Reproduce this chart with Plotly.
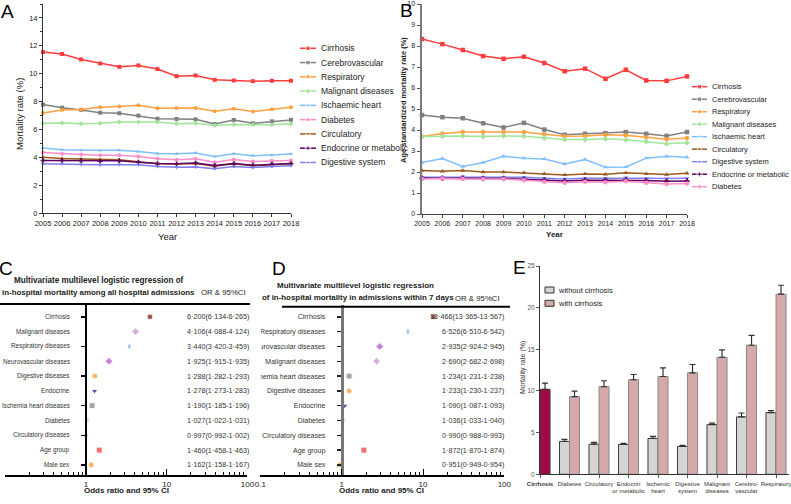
import plotly.graph_objects as go

W, H = 791, 504
FONT = "Liberation Sans Narrow, Liberation Sans, Arial, sans-serif"
FONT2 = "Liberation Sans, Arial, sans-serif"

def fx(p):
    return p / W

def fy(p):
    return 1 - p / H

# ---------------- DATA ----------------
years = list(range(2005, 2019))

# Panel A: crude in-hospital mortality rate (%)
a_cirrhosis = [11.55, 11.41, 11.02, 10.73, 10.49, 10.59, 10.33, 9.82, 9.87, 9.56, 9.51, 9.46, 9.49, 9.49]
a_cerebro = [7.78, 7.56, 7.40, 7.20, 7.16, 6.99, 6.77, 6.75, 6.72, 6.39, 6.68, 6.44, 6.58, 6.68]
a_resp = [7.18, 7.40, 7.42, 7.59, 7.64, 7.73, 7.52, 7.54, 7.54, 7.30, 7.49, 7.28, 7.44, 7.59]
a_malig = [6.44, 6.46, 6.41, 6.44, 6.53, 6.53, 6.53, 6.41, 6.44, 6.29, 6.36, 6.34, 6.34, 6.41]
a_ischaemic = [4.66, 4.54, 4.51, 4.49, 4.51, 4.42, 4.27, 4.25, 4.30, 4.06, 4.25, 4.11, 4.15, 4.23]
a_diabetes = [4.35, 4.25, 4.20, 4.15, 4.15, 4.06, 3.89, 3.82, 3.89, 3.65, 3.84, 3.70, 3.75, 3.77]
a_circ = [4.01, 3.91, 3.87, 3.82, 3.82, 3.67, 3.53, 3.51, 3.55, 3.36, 3.53, 3.39, 3.46, 3.53]
a_endo = [3.77, 3.77, 3.75, 3.72, 3.75, 3.65, 3.55, 3.53, 3.58, 3.41, 3.55, 3.43, 3.51, 3.55]
a_digest = [3.53, 3.53, 3.48, 3.46, 3.48, 3.46, 3.34, 3.29, 3.31, 3.17, 3.34, 3.27, 3.34, 3.39]

# Panel B: age standardized mortality rate (%)
b_cirrhosis = [8.33, 8.09, 7.81, 7.52, 7.39, 7.49, 7.19, 6.80, 6.92, 6.44, 6.87, 6.36, 6.34, 6.55]
b_cerebro = [4.71, 4.61, 4.56, 4.32, 4.12, 4.34, 4.02, 3.77, 3.82, 3.85, 3.90, 3.82, 3.72, 3.90]
b_resp = [3.69, 3.83, 3.90, 3.90, 3.91, 3.91, 3.80, 3.70, 3.72, 3.77, 3.75, 3.66, 3.56, 3.62]
b_malig = [3.69, 3.70, 3.72, 3.69, 3.72, 3.70, 3.62, 3.55, 3.55, 3.58, 3.53, 3.45, 3.35, 3.39]
b_ischaemic = [2.45, 2.64, 2.26, 2.45, 2.75, 2.66, 2.62, 2.38, 2.59, 2.23, 2.24, 2.66, 2.75, 2.70]
b_circ = [2.07, 2.03, 2.07, 2.00, 2.00, 1.96, 1.92, 1.86, 1.91, 1.89, 1.96, 1.91, 1.88, 1.94]
b_digest = [1.75, 1.75, 1.78, 1.75, 1.75, 1.75, 1.70, 1.67, 1.70, 1.70, 1.73, 1.70, 1.69, 1.70]
b_endo = [1.70, 1.70, 1.70, 1.69, 1.69, 1.65, 1.61, 1.57, 1.61, 1.61, 1.62, 1.59, 1.56, 1.57]
b_diabetes = [1.67, 1.69, 1.67, 1.67, 1.67, 1.61, 1.54, 1.49, 1.54, 1.51, 1.56, 1.49, 1.43, 1.45]

# Panel C: OR among all hospital admissions
c_rows = ["Cirrhosis", "Malignant diseases", "Respiratory diseases", "Neurovascular diseases",
          "Digestive diseases", "Endocrine", "Ischemia heart diseases", "Diabetes",
          "Circulatory diseases", "Age group", "Male sex"]
c_or = [6.200, 4.106, 3.440, 1.925, 1.288, 1.278, 1.190, 1.027, 0.997, 1.460, 1.162]
c_lo = [6.134, 4.088, 3.420, 1.915, 1.282, 1.273, 1.185, 1.022, 0.992, 1.458, 1.158]
c_hi = [6.265, 4.124, 3.459, 1.935, 1.293, 1.283, 1.196, 1.031, 1.002, 1.463, 1.167]

# Panel D: OR in admissions within 7 days
d_rows = ["Cirrhosis", "Respiratory diseases", "Neurovascular diseases", "Malignant diseases",
          "Ischemia heart diseases", "Digestive diseases", "Endocrine", "Diabetes",
          "Circulatory diseases", "Age group", "Male sex"]
d_or = [13.466, 6.526, 2.935, 2.690, 1.234, 1.233, 1.090, 1.036, 0.990, 1.872, 0.951]
d_lo = [13.365, 6.510, 2.924, 2.682, 1.231, 1.230, 1.087, 1.033, 0.988, 1.870, 0.949]
d_hi = [13.567, 6.542, 2.945, 2.698, 1.238, 1.237, 1.093, 1.040, 0.993, 1.874, 0.954]

# Panel E: mortality rate with / without cirrhosis
e_cats = ["Cirrhosis", "Diabetes", "Circulatory", "Endocrin or metabolic", "Ischemic heart",
          "Digestive system", "Malignant diseases", "Cerebrovascular", "Respiratory"]
e_ticks = ["<b>Cirrhosis</b>", "Diabetes", "Circulatory", "Endocrin<br>or metabolic", "Ischemic<br>heart",
           "Digestive<br>system", "Malignant<br>diseases", "Cerebro-<br>vascular", "Respiratory"]
e_cirrhosis_only = [10.19]
e_cirrhosis_only_err = [10.95]
e_without = [3.94, 3.62, 3.58, 4.30, 3.34, 5.97, 6.89, 7.40]
e_without_err = [4.18, 3.82, 3.70, 4.54, 3.46, 6.13, 7.36, 7.64]
e_with = [9.32, 10.51, 11.35, 11.74, 12.18, 14.05, 15.49, 21.62]
e_with_err = [9.99, 11.23, 11.98, 12.78, 13.18, 14.93, 16.68, 22.69]

# ---------------- STYLES ----------------
series_style = {
    "Cirrhosis": ("#ff3b3b", "square"),
    "Cerebrovascular": ("#808080", "square"),
    "Respiratory": ("#ffa040", "circle"),
    "Malignant diseases": ("#a3e39c", "diamond"),
    "Ischaemic heart": ("#80bfff", "triangle-up"),
    "Diabetes": ("#ff8fc8", "circle"),
    "Circulatory": ("#9c5a1e", "triangle-up"),
    "Endocrine or metabolic": ("#5e005e", "cross"),
    "Digestive system": ("#8080f0", "triangle-down"),
}
a_series = [("Cirrhosis", a_cirrhosis), ("Cerebrovascular", a_cerebro), ("Respiratory", a_resp),
            ("Malignant diseases", a_malig), ("Ischaemic heart", a_ischaemic), ("Diabetes", a_diabetes),
            ("Circulatory", a_circ), ("Endocrine or metabolic", a_endo), ("Digestive system", a_digest)]
b_series = [("Cirrhosis", b_cirrhosis), ("Cerebrovascular", b_cerebro), ("Respiratory", b_resp),
            ("Malignant diseases", b_malig), ("Ischaemic heart", b_ischaemic), ("Circulatory", b_circ),
            ("Digestive system", b_digest), ("Endocrine or metabolic", b_endo), ("Diabetes", b_diabetes)]

forest_style = {
    "Cirrhosis": ("#7a1a0a", "circle", 6),
    "Malignant diseases": ("#c98fd4", "diamond", 6),
    "Respiratory diseases": ("#86ade3", "diamond-tall", 6),
    "Neurovascular diseases": ("#b54ad6", "diamond", 6),
    "Digestive diseases": ("#f79a3a", "circle", 6),
    "Endocrine": ("#12127a", "triangle-down", 6),
    "Ischemia heart diseases": ("#808080", "square", 6),
    "Diabetes": ("#a6e3a0", "circle", 5),
    "Circulatory diseases": ("#80b0f0", "circle", 5),
    "Age group": ("#f03434", "square", 6),
    "Male sex": ("#f79a3a", "circle", 6),
}

fig = go.Figure()

# ---------------- Panel A ----------------
for name, vals in a_series:
    col, sym = series_style[name]
    fig.add_trace(go.Scatter(x=years, y=vals, mode="lines+markers", name=name, showlegend=False,
                             line=dict(color=col, width=1.5), marker=dict(color=col, symbol=sym, size=4),
                             xaxis="x", yaxis="y", cliponaxis=False))

# ---------------- Panel B ----------------
for name, vals in b_series:
    col, sym = series_style[name]
    fig.add_trace(go.Scatter(x=years, y=vals, mode="lines+markers", name=name, showlegend=False,
                             line=dict(color=col, width=1.5), marker=dict(color=col, symbol=sym, size=4.5),
                             xaxis="x2", yaxis="y2", cliponaxis=False))

# ---------------- Panels C & D (forest plots) ----------------
def forest(rows, orv, lo, hi, xa, ya):
    fig.add_trace(go.Scatter(
        x=orv, y=rows, mode="markers", showlegend=False,
        marker=dict(color=[forest_style[r][0] for r in rows],
                    symbol=[forest_style[r][1] for r in rows],
                    size=[forest_style[r][2] for r in rows]),
        error_x=dict(type="data", symmetric=False,
                     array=[h - o for h, o in zip(hi, orv)],
                     arrayminus=[o - l for o, l in zip(orv, lo)],
                     color="#555", thickness=1, width=0),
        xaxis=xa, yaxis=ya, cliponaxis=False))

forest(c_rows, c_or, c_lo, c_hi, "x3", "y3")
forest(d_rows, d_or, d_lo, d_hi, "x4", "y4")

# ---------------- Panel E (bars) ----------------
fig.add_trace(go.Bar(x=e_cats[1:], y=e_without, name="without cirrhosis", offsetgroup="a",
                     marker=dict(color="#d4d4d4", line=dict(color="#3a3a3a", width=1)),
                     error_y=dict(type="data", symmetric=False,
                                  array=[h - v for h, v in zip(e_without_err, e_without)],
                                  arrayminus=[0] * len(e_without), color="#333", thickness=1.2, width=3),
                     showlegend=False, xaxis="x5", yaxis="y5"))
fig.add_trace(go.Bar(x=e_cats[1:], y=e_with, name="with cirrhosis", offsetgroup="b",
                     marker=dict(color="#d5a9a9", line=dict(color="#8a8a8a", width=1)),
                     error_y=dict(type="data", symmetric=False,
                                  array=[h - v for h, v in zip(e_with_err, e_with)],
                                  arrayminus=[0] * len(e_with), color="#333", thickness=1.2, width=3),
                     showlegend=False, xaxis="x5", yaxis="y5"))
fig.add_trace(go.Bar(x=e_cats[:1], y=e_cirrhosis_only, name="Cirrhosis", offsetgroup="b",
                     marker=dict(color="#a00848", line=dict(color="#3a3a3a", width=1)),
                     error_y=dict(type="data", symmetric=False,
                                  array=[h - v for h, v in zip(e_cirrhosis_only_err, e_cirrhosis_only)],
                                  arrayminus=[0], color="#333", thickness=1.2, width=3),
                     showlegend=False, xaxis="x5", yaxis="y5"))

# ---------------- Manual legends (pixel overlay axis) ----------------
def legend_rows(series, x0, x1, ytop, dy, msize):
    for i, (name, _) in enumerate(series):
        col, sym = series_style[name]
        yy = ytop + i * dy
        fig.add_trace(go.Scatter(x=[x0, (x0 + x1) / 2, x1], y=[yy, yy, yy], mode="lines+markers",
                                 line=dict(color=col, width=1.5),
                                 marker=dict(color=col, symbol=sym, size=[0, msize, 0]),
                                 showlegend=False, xaxis="x6", yaxis="y6", hoverinfo="skip"))

legend_rows(a_series, 300, 316, 48.3, 14.27, 4.5)
legend_rows(b_series, 692, 707, 86.7, 12.5, 4.5)

annotations = []

def ann(text, x, y, size, xanchor="center", yanchor="middle", color="#222", bold=False,
        angle=0, family=FONT):
    if bold:
        text = "<b>" + text + "</b>"
    annotations.append(dict(text=text, x=fx(x), y=fy(y), xref="paper", yref="paper",
                            xanchor=xanchor, yanchor=yanchor, showarrow=False, textangle=angle,
                            font=dict(size=size, color=color, family=family)))

for i, (name, _) in enumerate(a_series):
    ann(name, 319, 48.3 + i * 14.27, 8.5, xanchor="left", color="#222", family=FONT2)
for i, (name, _) in enumerate(b_series):
    ann(name, 709.5, 86.7 + i * 12.5, 7.5, xanchor="left", color="#222", family=FONT2)

# Panel letters
ann("A", 7, 11, 19, family=FONT2, color="#000")
ann("B", 406, 10, 19, family=FONT2, color="#000")
ann("C", 6, 268, 19, family=FONT2, color="#000")
ann("D", 279, 268, 19, family=FONT2, color="#000")
ann("E", 519, 267, 19, family=FONT2, color="#000")

# Axis titles A/B
ann("Mortality rate (%)", 20, 114, 9.5, angle=-90, family=FONT2)
ann("Year", 167, 236, 9.5, family=FONT2)
ann("Age standardized mortality rate (%)", 404, 100, 7.5, angle=-90, bold=True, family=FONT2)
ann("Year", 554, 234, 8, bold=True, family=FONT2)

# Forest titles
ann("Multivariate multilevel logistic regression of", 98.5, 280, 8.15, bold=True)
ann("in-hospital mortality among all hospital admissions", 98.5, 292.5, 7.9, bold=True)
ann("OR &amp; 95%CI", 223, 292, 7.8)
ann("Multivariate multilevel logistic regression", 355, 285, 8.0, bold=True)
ann("of in-hospital mortality in admissions within 7 days", 260, 297.7, 7.9, bold=True, xanchor="left")
ann("OR &amp; 95%CI", 477.5, 298, 7.8)
ann("Odds ratio and 95% CI", 126.5, 490.7, 8, bold=True)
ann("Odds ratio and 95% CI", 381, 490.7, 8, bold=True)

def fmt(v):
    return f"{v:.3f}".replace(".", "·")

# C row labels (right-aligned left of the OR=1 axis)
for r in c_rows:
    annotations.append(dict(text=r, x=fx(72), y=r, xref="paper", yref="y3",
                            xanchor="right", yanchor="middle", showarrow=False,
                            font=dict(size=6.3, color="#333", family=FONT)))
for r, o, l, h in zip(c_rows, c_or, c_lo, c_hi):
    annotations.append(dict(text=f"{fmt(o)}({fmt(l)}-{fmt(h)})", x=fx(185), y=r, xref="paper", yref="y3",
                            xanchor="left", yanchor="middle", showarrow=False,
                            font=dict(size=7.2, color="#333", family=FONT)))
for r, o, l, h in zip(d_rows, d_or, d_lo, d_hi):
    annotations.append(dict(text=f"{fmt(o)}({fmt(l)}-{fmt(h)})", x=fx(506), y=r, xref="paper", yref="y4",
                            xanchor="right", yanchor="middle", showarrow=False,
                            font=dict(size=7.2, color="#333", family=FONT)))

# Panel E titles / legend
ann("Mortality rate (%)", 523, 368, 7, angle=-90, color="#333")
ann("without cirrhosis", 556, 290, 7.5, xanchor="left", color="#222")
ann("with cirrhosis", 556, 303.3, 7.5, xanchor="left", color="#222")

shapes = [
    # top rules of forest plots
    dict(type="line", xref="paper", yref="paper", x0=fx(0), x1=fx(250), y0=fy(304), y1=fy(304),
         line=dict(color="#000", width=2)),
    dict(type="line", xref="paper", yref="paper", x0=fx(282), x1=fx(510), y0=fy(306.7), y1=fy(306.7),
         line=dict(color="#000", width=2)),
    # E legend swatches
    dict(type="rect", xref="paper", yref="paper", x0=fx(545), x1=fx(554), y0=fy(293), y1=fy(287),
         fillcolor="#d4d4d4", line=dict(color="#333", width=1)),
    dict(type="rect", xref="paper", yref="paper", x0=fx(545), x1=fx(554), y0=fy(306.3), y1=fy(300.3),
         fillcolor="#d5a9a9", line=dict(color="#333", width=1)),
    # panel clip between C and D
    dict(type="rect", xref="paper", yref="paper", x0=fx(249), x1=fx(261), y0=fy(470), y1=fy(310),
         fillcolor="white", line=dict(width=0), layer="above"),
]

tickf = dict(size=7.5, color="#222", family=FONT2)
common = dict(automargin=False, showgrid=False, zeroline=False, tickangle=0)
minor_log = [m * d for d in (0.1, 1, 10) for m in range(2, 10)]

fig.update_layout(
    template="none",
    width=W, height=H, margin=dict(l=0, r=0, t=0, b=0, autoexpand=False),
    paper_bgcolor="white", plot_bgcolor="rgba(0,0,0,0)",
    showlegend=False, barmode="group", bargap=0.32, bargroupgap=0,
    annotations=annotations, shapes=shapes,
    # Panel A
    xaxis=dict(domain=[fx(43), fx(291)], range=[2005, 2018], anchor="y", tickvals=years,
               showline=True, linecolor="#333", linewidth=1, ticks="outside", ticklen=3,
               tickcolor="#333", tickfont=tickf, **common),
    yaxis=dict(domain=[fy(213), fy(4)], range=[0, 15], anchor="x", tickvals=list(range(0, 15, 2)),
               showline=True, linecolor="#333", linewidth=1, ticks="outside", ticklen=3,
               tickcolor="#333", tickfont=tickf, **common,
               minor=dict(tickvals=list(range(1, 16, 2)), ticks="outside", ticklen=2, tickcolor="#333",
                          showgrid=False)),
    # Panel B
    xaxis2=dict(domain=[fx(422), fx(687)], range=[2005, 2018], anchor="y2", tickvals=years,
                showline=True, linecolor="#444", linewidth=1, ticks="outside", ticklen=3,
                tickcolor="#444", tickfont=dict(size=7, color="#222", family=FONT2), **common),
    yaxis2=dict(domain=[fy(214), fy(4)], range=[0, 10], anchor="x2", dtick=1,
                showline=True, linecolor="#7a7a7a", linewidth=2.5, ticks="outside", ticklen=3,
                tickcolor="#555", tickfont=dict(size=7, color="#222", family=FONT2), **common),
    # Panel C
    xaxis3=dict(domain=[fx(5.3), fx(247.4)], type="log", range=[-1, 2], anchor="y3",
                tickvals=[0.1, 1, 10, 100], ticktext=["0.1", "1", "10", "100"],
                showline=True, linecolor="#000", linewidth=2, ticks="inside", ticklen=6,
                tickcolor="#000", tickwidth=1, tickfont=dict(size=8, color="#222", family=FONT), **common,
                minor=dict(tickvals=minor_log, ticks="inside", ticklen=3, tickcolor="#000", tickwidth=1,
                           showgrid=False)),
    yaxis3=dict(domain=[fy(475), fy(305)], type="category", categoryorder="array",
                categoryarray=c_rows[::-1], range=[-0.68, 10.8], anchor="free", position=fx(86),
                showline=True, linecolor="#000", linewidth=2, ticks="outside", ticklen=4,
                tickcolor="#000", tickwidth=1.5, showticklabels=False, **common),
    # Panel D
    xaxis4=dict(domain=[fx(260.4), fx(504.3)], type="log", range=[-1, 2], anchor="y4",
                tickvals=[0.1, 1, 10, 100], ticktext=["0.1", "1", "10", "100"],
                showline=True, linecolor="#000", linewidth=2, ticks="inside", ticklen=6,
                tickcolor="#000", tickwidth=1, tickfont=dict(size=8, color="#222", family=FONT), **common,
                minor=dict(tickvals=minor_log, ticks="inside", ticklen=3, tickcolor="#000", tickwidth=1,
                           showgrid=False)),
    yaxis4=dict(domain=[fy(475), fy(305)], type="category", categoryorder="array",
                categoryarray=d_rows[::-1], range=[-0.68, 10.8], anchor="free", position=fx(341.7),
                showline=True, linecolor="#777", linewidth=3, ticks="outside", ticklen=4,
                tickcolor="#222", tickwidth=1.5, ticklabelstandoff=10,
                tickfont=dict(size=7, color="#333", family=FONT), **common),
    # Panel E
    xaxis5=dict(domain=[fx(540), fx(789)], type="category", categoryorder="array", categoryarray=e_cats,
                range=[0, 8.44], anchor="y5", tickvals=e_cats, ticktext=e_ticks,
                showline=True, linecolor="#333", linewidth=1, ticks="outside", ticklen=3,
                tickcolor="#555", tickfont=dict(size=6, color="#333", family=FONT), **common),
    yaxis5=dict(domain=[fy(474.3), fy(266)], range=[0, 25], anchor="x5", dtick=5,
                showline=True, linecolor="#333", linewidth=1, ticks="outside", ticklen=3,
                tickcolor="#555", tickfont=dict(size=6.5, color="#555", family=FONT), **common),
    # Pixel overlay for legend keys
    xaxis6=dict(domain=[0, 1], range=[0, W], anchor="y6", visible=False, fixedrange=True, automargin=False),
    yaxis6=dict(domain=[0, 1], range=[H, 0], anchor="x6", visible=False, fixedrange=True, automargin=False),
)

fig.write_html("out.html", config={"displayModeBar": False, "staticPlot": True},
               post_script="document.body.style.margin='0';document.body.style.overflow='hidden';")
